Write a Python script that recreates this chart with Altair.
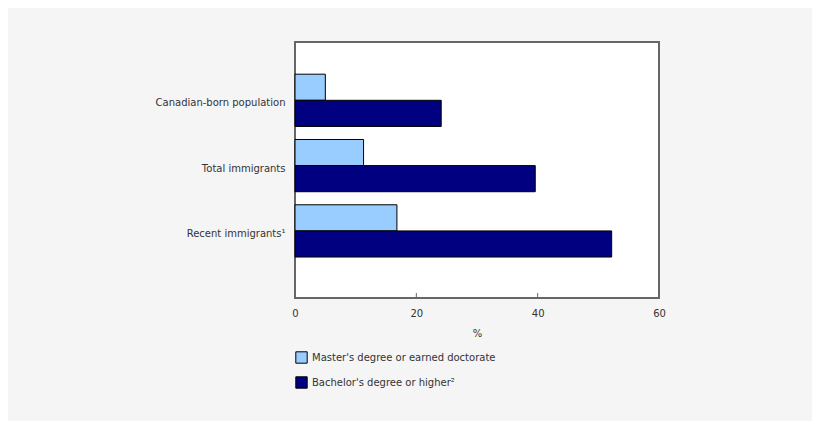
import altair as alt
import pandas as pd

categories = ["Canadian-born population", "Total immigrants", "Recent immigrants\u00b9"]
series = ["Master's degree or earned doctorate", "Bachelor's degree or higher\u00b2"]
masters = [5.0, 11.3, 16.8]
bachelors = [24.1, 39.6, 52.2]
x_ticks = [0, 20, 40, 60]
inner_ticks = [20, 40]
colors = ["#99ccff", "#000080"]

rows = []
for c, m, b in zip(categories, masters, bachelors):
    rows.append({"cat": c, "series": series[0], "value": m})
    rows.append({"cat": c, "series": series[1], "value": b})
df = pd.DataFrame(rows)
ticks_df = pd.DataFrame({"t": inner_ticks})

FONT = "DejaVu Sans"
W, H = 364, 256

xscale = alt.Scale(domain=[0, 60], nice=False, zero=True)

bars = alt.Chart(df).mark_bar(stroke="#000000", strokeWidth=1).encode(
    x=alt.X("value:Q", scale=xscale,
            axis=alt.Axis(values=x_ticks, title="%", domain=False, ticks=False, grid=False,
                          labelFlush=False,
                          labelFont=FONT, labelFontSize=10, labelColor="#333333",
                          titleFont=FONT, titleFontSize=10, titleFontWeight="normal",
                          titleColor="#333333", labelPadding=10, titlePadding=10)),
    y=alt.Y("cat:N", sort=categories,
            scale=alt.Scale(paddingInner=0.2, paddingOuter=0.56, align=0.44),
            axis=alt.Axis(title=None, domain=False, ticks=False, labelFont=FONT,
                          labelFontSize=10, labelColor="#333333", labelPadding=10,
                          labelOffset=3)),
    yOffset=alt.YOffset("series:N", sort=series,
                        scale=alt.Scale(paddingInner=0, paddingOuter=0)),
    color=alt.Color("series:N", sort=series,
                    scale=alt.Scale(domain=series, range=colors),
                    legend=alt.Legend(title=None, orient="none", legendX=0, legendY=309,
                                      direction="vertical", symbolType="square",
                                      symbolSize=130, symbolStrokeColor="#000000",
                                      symbolStrokeWidth=1, labelFont=FONT, labelFontSize=10,
                                      labelColor="#333333", rowPadding=8, padding=0,
                                      labelOffset=4, labelLimit=400)),
)

tick_rules = alt.Chart(ticks_df).mark_rule(color="#666666", strokeWidth=1).encode(
    x=alt.X("t:Q", scale=xscale),
    y=alt.value(H),
    y2=alt.value(H - 5),
)

chart = alt.layer(bars, tick_rules).properties(
    width=W, height=H,
    autosize=alt.AutoSizeParams(type="none"),
    padding={"left": 287, "top": 34, "right": 153, "bottom": 123},
    background="#f5f5f5",
).configure_view(
    fill="#ffffff", stroke="#666666", strokeWidth=2
)

chart.save("out.html", embed_options={"renderer": "svg", "actions": False})
